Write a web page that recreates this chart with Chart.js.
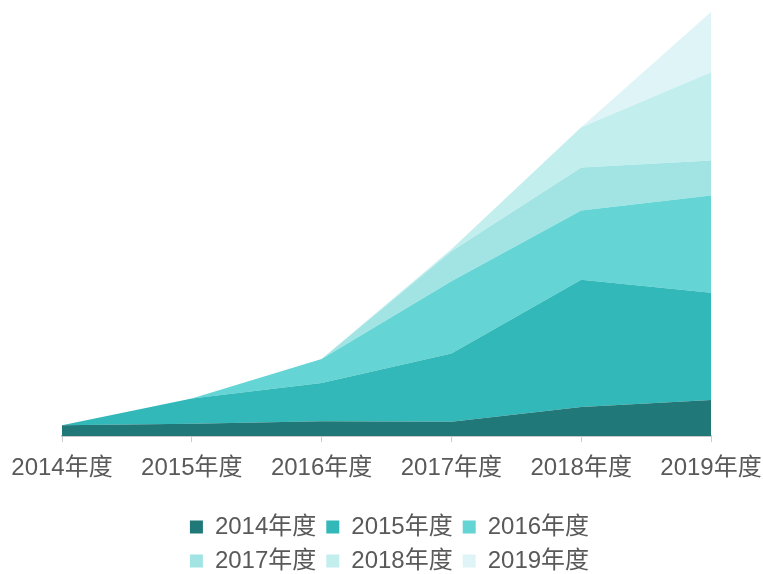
<!DOCTYPE html>
<html>
<head>
  <meta charset="utf-8">
  <title>年度別推移</title>
  <script src="https://cdn.jsdelivr.net/npm/chart.js"></script>
  <style>
    body {
      margin: 0;
      padding: 0;
      background: #ffffff;
    }

    #chart-container {
      width: 763px;
      height: 574px;
    }
  </style>
</head>
<body>

  <div id="chart-container">
    <canvas id="myChart"></canvas>
  </div>

  <script>
    const labels = ['2014年度', '2015年度', '2016年度', '2017年度', '2018年度', '2019年度'];

    const seriesNames = ['2014年度', '2015年度', '2016年度', '2017年度', '2018年度', '2019年度'];
    const s2014 = [11, 12.5, 15, 14.5, 29, 36];
    const s2015 = [0, 25, 38, 68, 127, 107];
    const s2016 = [0, 0, 24, 72, 69, 97];
    const s2017 = [0, 0, 0, 30, 43, 35];
    const s2018 = [0, 0, 0, 2, 40, 88];
    const s2019 = [0, 0, 0, 0, 0, 60];
    const yMax = 423;

    const colors = ['#217878', '#32b8b8', '#64d4d4', '#a2e4e4', '#c3eeee', '#dff4f6'];
    const values = [s2014, s2015, s2016, s2017, s2018, s2019];

    const fontFamily = '"Liberation Sans", Arial, "Noto Sans CJK SC", sans-serif';
    const LEGEND_W = 440;

    // legend: three items per row, nudged right/down
    const legendWrap = {
      id: 'legendWrap',
      afterInit(chart) {
        const lg = chart.legend;
        const orig = lg.update.bind(lg);
        lg.update = (w, h, m) => orig(Math.min(w, LEGEND_W), h, m);
      },
      beforeDraw(chart) {
        const lg = chart.legend;
        const cx = chart.width / 2 + 8;
        lg.left = cx - LEGEND_W / 2;
        lg.right = cx + LEGEND_W / 2;
        lg.top = chart.height - lg.height + 9;
        lg.bottom = lg.top + lg.height;
      }
    };

    const ctx = document.getElementById('myChart').getContext('2d');
    const chart = new Chart(ctx, {
      type: 'line',
      data: {
        labels: labels,
        datasets: values.map((v, i) => ({
          label: seriesNames[i],
          data: v,
          backgroundColor: colors[i],
          borderColor: colors[i],
          borderWidth: 0,
          pointRadius: 0,
          tension: 0,
          fill: i === 0 ? 'origin' : '-1'
        }))
      },
      options: {
        responsive: true,
        maintainAspectRatio: false,
        animation: false,
        layout: {
          padding: { left: 0, right: 0, top: 12, bottom: 0 }
        },
        plugins: {
          legend: {
            position: 'bottom',
            labels: {
              boxWidth: 13,
              boxHeight: 13,
              padding: 10,
              color: '#595959',
              font: { family: fontFamily, size: 24 }
            }
          },
          tooltip: { enabled: false }
        },
        scales: {
          x: {
            offset: false,
            afterFit(scale) {
              scale.paddingLeft = 62;
              scale.paddingRight = 52;
              scale.height += 1;
            },
            grid: {
              display: true,
              drawOnChartArea: false,
              drawTicks: true,
              tickLength: 6,
              color: '#cccccc'
            },
            border: { color: '#cccccc', width: 2 },
            ticks: {
              color: '#595959',
              padding: 12,
              maxRotation: 0,
              autoSkip: false,
              font: { family: fontFamily, size: 24 }
            }
          },
          y: {
            display: false,
            stacked: true,
            min: 0,
            max: yMax
          }
        }
      },
      plugins: [legendWrap]
    });
  </script>

</body>
</html>
